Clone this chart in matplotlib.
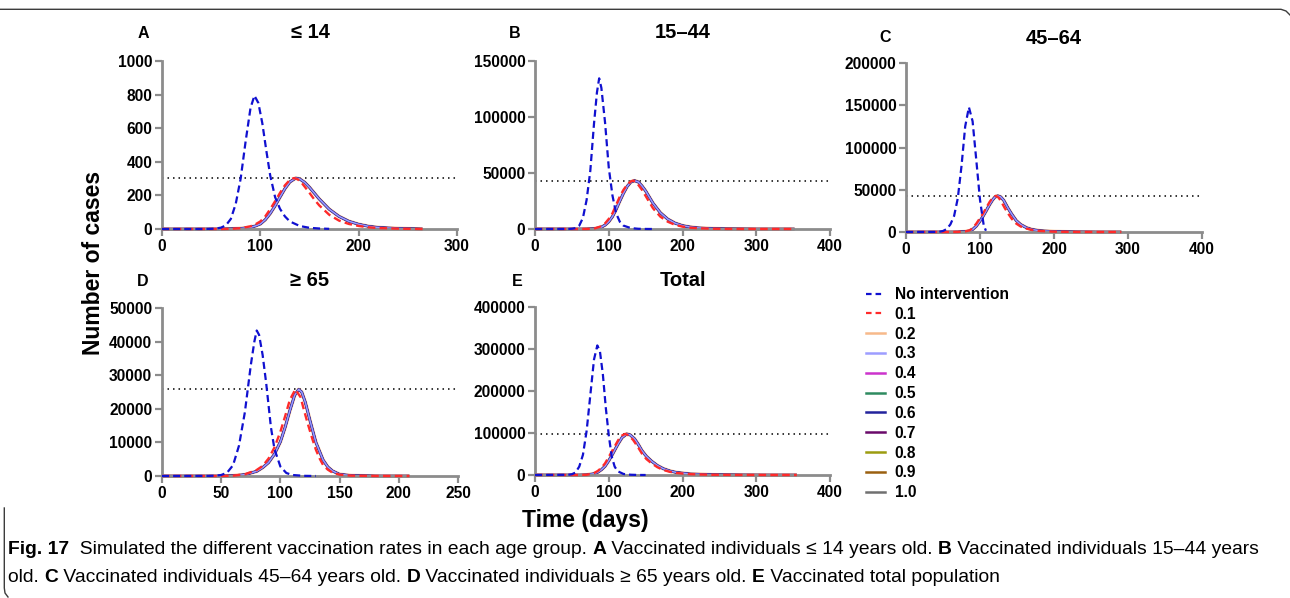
import matplotlib
matplotlib.use("Agg")
import matplotlib.pyplot as plt
from matplotlib.lines import Line2D
from matplotlib import font_manager

# ---------------- data ----------------
rates = ["0.1", "0.2", "0.3", "0.4", "0.5", "0.6", "0.7", "0.8", "0.9", "1.0"]
panel_letters = ["A", "B", "C", "D", "E"]
panel_titles = ["\u2264 14", "15\u201344", "45\u201364", "\u2265 65", "Total"]
x_max = [300, 400, 400, 250, 400]
y_max = [1000, 150000, 200000, 50000, 400000]
x_step = [100, 100, 100, 50, 100]
y_step = [200, 50000, 50000, 10000, 100000]
threshold = [303, 43150, 42800, 25750, 97800]

# Panel A (<=14)
A_none_days = [0, 40, 50, 55, 60, 65, 70, 75, 80, 85, 90, 94, 98, 102, 106, 110, 115, 120, 125, 130, 140, 150, 160, 170]
A_none_vals = [0, 0, 1, 3, 8, 22, 60, 150, 300, 520, 720, 794, 750, 630, 470, 320, 190, 120, 75, 45, 18, 7, 3, 1]
A_r01_days = [0, 60, 70, 80, 90, 95, 100, 105, 110, 115, 120, 125, 130, 134, 138, 142, 146, 150, 155, 160, 170, 180, 190, 200, 210, 220, 240, 265]
A_r01_vals = [0, 0, 1, 5, 16, 28, 45, 75, 118, 165, 215, 260, 292, 303, 296, 275, 245, 215, 175, 140, 85, 50, 30, 18, 10, 6, 2, 0]
A_vac_days = [0, 60, 70, 80, 90, 95, 100, 105, 110, 115, 120, 125, 130, 136, 140, 145, 150, 155, 160, 170, 180, 190, 200, 210, 220, 240, 265]
A_vac_vals = [0, 0, 1, 3, 10, 18, 30, 55, 92, 138, 190, 240, 280, 303, 298, 278, 248, 213, 178, 118, 75, 46, 28, 16, 9, 3, 0]

# Panel B (15-44)
B_none_days = [0, 45, 50, 55, 60, 65, 70, 75, 80, 84, 87, 90, 95, 100, 105, 110, 115, 120, 130, 140, 150, 160]
B_none_vals = [0, 50, 200, 800, 3000, 10000, 26000, 52000, 94000, 122000, 134500, 126000, 95000, 55000, 30000, 14000, 6500, 3000, 800, 200, 50, 0]
B_r01_days = [0, 60, 70, 80, 90, 95, 100, 105, 110, 115, 120, 125, 130, 133, 136, 140, 145, 150, 155, 160, 170, 180, 190, 200, 210, 220, 240, 260, 300, 352]
B_r01_vals = [0, 0, 50, 300, 2500, 5000, 9000, 14000, 21500, 29000, 35000, 39500, 42500, 43150, 42500, 39500, 35000, 29500, 24000, 18500, 11000, 6500, 3700, 2100, 1200, 700, 250, 100, 10, 0]
B_vac_days = [0, 60, 70, 80, 90, 95, 100, 105, 110, 115, 120, 125, 130, 135, 140, 145, 150, 155, 160, 170, 180, 190, 200, 210, 220, 240, 260, 300, 352]
B_vac_vals = [0, 0, 30, 200, 1600, 3500, 6500, 11000, 17500, 25000, 32000, 38000, 42000, 43150, 42000, 38500, 34000, 28500, 23000, 14500, 8800, 5200, 3000, 1800, 1000, 350, 120, 15, 0]

# Panel C (45-64)
C_none_days = [0, 40, 45, 50, 55, 60, 65, 70, 75, 80, 85, 90, 95, 100, 105, 108]
C_none_vals = [0, 100, 300, 1200, 3500, 9000, 19000, 40000, 78000, 125000, 147700, 131000, 85000, 38000, 8000, 1500]
C_r01_days = [0, 60, 70, 80, 86, 90, 95, 100, 104, 108, 113, 117, 121.5, 125, 129, 133, 138, 143, 149, 155, 163, 170, 181, 200, 230, 260, 291]
C_r01_vals = [0, 0, 100, 700, 2000, 4500, 9900, 16500, 21800, 28000, 35600, 40500, 42800, 40800, 35600, 29000, 21800, 15500, 9900, 6500, 4000, 2500, 1200, 400, 80, 15, 0]
C_vac_days = [0, 60, 70, 80, 86, 90, 95, 100, 104, 108, 113, 117, 120, 124, 128, 132, 138, 143, 149, 155, 163, 170, 181, 200, 230, 260, 291]
C_vac_vals = [0, 0, 60, 450, 1300, 3000, 7000, 13000, 18500, 24500, 32500, 38000, 41200, 42800, 41500, 37500, 28000, 21000, 13500, 8800, 5000, 3000, 1500, 500, 100, 20, 0]

# Panel D (>=65)
D_none_days = [0, 40, 45, 50, 55, 60, 65, 70, 75, 78, 80, 82, 85, 88, 92, 95, 100, 105, 110, 120, 130]
D_none_vals = [0, 30, 100, 300, 1000, 3200, 9000, 19000, 33000, 40000, 43300, 42000, 36000, 27600, 14500, 8000, 2800, 900, 300, 50, 0]
D_r01_days = [0, 50, 60, 70, 80, 85, 90, 95, 100, 104, 108, 112.6, 117, 120, 123, 127, 130, 133, 136, 140, 144, 150, 160, 180, 209]
D_r01_vals = [0, 0, 100, 500, 1800, 3000, 5200, 8500, 13200, 17800, 22700, 25750, 23500, 19500, 15700, 11000, 7800, 5300, 3300, 1900, 1000, 400, 100, 10, 0]
D_vac_days = [0, 50, 60, 70, 80, 85, 90, 95, 100, 104, 108, 112, 115.4, 118, 121, 125, 130, 136, 140, 144, 150, 160, 180, 209]
D_vac_vals = [0, 0, 80, 400, 1400, 2500, 4000, 6500, 10200, 14500, 19500, 24000, 25750, 25000, 22000, 16500, 10000, 4800, 2700, 1500, 500, 120, 10, 0]

# Panel E (Total)
E_none_days = [0, 45, 50, 55, 60, 65, 70, 75, 80, 84.5, 88, 92, 96, 100, 104, 108, 112, 120, 130, 140, 150]
E_none_vals = [0, 500, 1800, 6000, 20000, 48000, 105000, 190000, 275000, 308500, 295000, 240000, 160000, 95000, 44000, 20000, 9000, 2500, 600, 100, 0]
E_r01_days = [0, 60, 70, 80, 85, 90, 95, 100, 104, 108, 113, 118, 122, 127, 133, 139, 145, 151, 158, 166, 174, 183, 192, 210, 240, 280, 320, 355]
E_r01_vals = [0, 0, 500, 4500, 9500, 17000, 27800, 43000, 55600, 68000, 83500, 94000, 97800, 94500, 83500, 68000, 51000, 38000, 27800, 18500, 11900, 7500, 4800, 2000, 500, 100, 20, 0]
E_vac_days = [0, 60, 70, 80, 85, 90, 95, 100, 104, 108, 113, 118, 124.3, 129, 135, 140, 145, 151, 158, 166, 174, 183, 192, 210, 240, 280, 320, 355]
E_vac_vals = [0, 0, 300, 3000, 6500, 12500, 21000, 34000, 46000, 59000, 75000, 89000, 97800, 95500, 86000, 73000, 58000, 44500, 33000, 22500, 15000, 9500, 6000, 2500, 600, 120, 25, 0]

none_days = [A_none_days, B_none_days, C_none_days, D_none_days, E_none_days]
none_vals = [A_none_vals, B_none_vals, C_none_vals, D_none_vals, E_none_vals]
r01_days = [A_r01_days, B_r01_days, C_r01_days, D_r01_days, E_r01_days]
r01_vals = [A_r01_vals, B_r01_vals, C_r01_vals, D_r01_vals, E_r01_vals]
vac_days = [A_vac_days, B_vac_days, C_vac_days, D_vac_days, E_vac_days]
vac_vals = [A_vac_vals, B_vac_vals, C_vac_vals, D_vac_vals, E_vac_vals]

# ---------------- styles / layout ----------------
W, H = 1290, 598
plt.rcParams["font.family"] = ["Liberation Sans", "DejaVu Sans"]
plt.rcParams["font.weight"] = "bold"

available = {f.name for f in font_manager.fontManager.ttflist}
if "Liberation Sans Narrow" in available:
    cap_font = ["Liberation Sans Narrow", "Liberation Sans", "DejaVu Sans"]
else:
    cap_font = ["Liberation Sans", "DejaVu Sans"]

fig = plt.figure(figsize=(W / 100, H / 100), dpi=100)
fig.patch.set_facecolor("white")

def fx(px):
    return px / W

def fy(py):
    return 1 - py / H

# axes rectangles in pixels: left, top, right, bottom
rects = [(162, 61, 457, 229), (535, 61, 830, 229), (906, 63, 1202, 232),
         (162, 308, 458, 476), (535, 307, 830, 475)]
letter_pos = [(143, 33), (515, 33), (885, 38), (143, 281), (517, 281)]
title_pos = [(310, 33), (683, 33), (1054, 38), (310, 281), (683, 281)]

solid_colors = {"0.2": "#f7b98a", "0.3": "#9d9dff", "0.4": "#cc33cc", "0.5": "#2e8b60",
                "0.6": "#23239c", "0.7": "#6a0a6a", "0.8": "#9c9c10", "0.9": "#9a6010",
                "1.0": "#707070"}
blue_c = "#1010d0"
red_c = "#ff2a2a"
spine_c = "#8c8c8c"
dash = (0, (3.2, 1.8))
solid_order = ["0.2", "1.0", "0.9", "0.8", "0.7", "0.5", "0.4", "0.6", "0.3"]
solid_lw = {"0.2": 2.6, "1.0": 1.4, "0.9": 1.4, "0.8": 1.4, "0.7": 1.4, "0.5": 1.4,
            "0.4": 1.4, "0.6": 1.9, "0.3": 1.1}

for i in range(5):
    l, t, r, b = rects[i]
    ax = fig.add_axes([fx(l), fy(b), (r - l) / W, (b - t) / H])
    ax.set_xlim(0, x_max[i])
    ax.set_ylim(0, y_max[i])
    ax.set_xticks(range(0, x_max[i] + 1, x_step[i]))
    ax.set_yticks(range(0, y_max[i] + 1, y_step[i]))
    for s in ("top", "right"):
        ax.spines[s].set_visible(False)
    for s in ("left", "bottom"):
        ax.spines[s].set_color(spine_c)
        ax.spines[s].set_linewidth(2.0)
    ax.tick_params(direction="out", length=5, width=1.6, color=spine_c,
                   labelsize=11.2, pad=2)
    for lab in ax.get_xticklabels() + ax.get_yticklabels():
        lab.set_fontweight("bold")
    ax.set_facecolor("none")

    ax.axhline(threshold[i], color="black", lw=1.1, ls=(0, (1, 2.6)), zorder=1)

    for k, key in enumerate(solid_order):
        ax.plot(vac_days[i], vac_vals[i], color=solid_colors[key], lw=solid_lw[key],
                zorder=2 + k * 0.01, clip_on=False, solid_capstyle="butt")
    ax.plot(r01_days[i], r01_vals[i], color=red_c, lw=1.7, ls=dash, zorder=3,
            clip_on=False)
    ax.plot(none_days[i], none_vals[i], color=blue_c, lw=1.6, ls=dash, zorder=4,
            clip_on=False)

    fig.text(fx(letter_pos[i][0]), fy(letter_pos[i][1]), panel_letters[i],
             fontsize=11.5, fontweight="bold", ha="center", va="center")
    fig.text(fx(title_pos[i][0]), fy(title_pos[i][1]), panel_titles[i],
             fontsize=14.5, fontweight="bold", ha="center", va="center")

# axis labels
fig.text(fx(93), fy(263), "Number of cases", rotation=90, fontsize=16.5,
         fontweight="bold", ha="center", va="center")
fig.text(fx(585), fy(521), "Time (days)", fontsize=16.5, fontweight="bold",
         ha="center", va="center")

# legend
handles = [Line2D([], [], color=blue_c, lw=1.6, ls=(0, (2.5, 1.8)))]
labels = ["No intervention"]
handles.append(Line2D([], [], color=red_c, lw=1.6, ls=(0, (2.5, 1.8))))
labels.append(rates[0])
for key in rates[1:]:
    handles.append(Line2D([], [], color=solid_colors[key], lw=1.8))
    labels.append(key)
fig.legend(handles, labels, loc="upper left", bbox_to_anchor=(fx(866), fy(287)),
           frameon=False, prop=dict(weight="bold", size=11.2), handlelength=1.2,
           handletextpad=0.65, labelspacing=0.31, borderaxespad=0, borderpad=0)

# frame lines
fig.add_artist(Line2D([fx(0), fx(1281), fx(1286), fx(1290)],
                      [fy(9.3), fy(9.3), fy(11), fy(15)], color="#3c3c3c", lw=1.0,
                      transform=fig.transFigure))
fig.add_artist(Line2D([fx(4.3), fx(4.3), fx(5), fx(8)],
                      [fy(508), fy(588), fy(593), fy(597)], color="#3c3c3c", lw=1.0,
                      transform=fig.transFigure))

# caption with mixed weights
line1 = [("Fig. 17", True), ("  Simulated the different vaccination rates in each age group. ", False),
         ("A", True), (" Vaccinated individuals \u2264 14 years old. ", False),
         ("B", True), (" Vaccinated individuals 15\u201344 years", False)]
line2 = [("old. ", False), ("C", True), (" Vaccinated individuals 45\u201364 years old. ", False),
         ("D", True), (" Vaccinated individuals \u2265 65 years old. ", False),
         ("E", True), (" Vaccinated total population", False)]

renderer = fig.canvas.get_renderer()

def seg_width(txt, bold, size):
    kw = dict(fontsize=size, fontweight="bold" if bold else "normal", family=cap_font)
    p = fig.text(0, 0, txt + "|", **kw)
    q = fig.text(0, 0, "|", **kw)
    w = p.get_window_extent(renderer).width - q.get_window_extent(renderer).width
    p.remove()
    q.remove()
    return w

def line_width(parts, size):
    return sum(seg_width(t, b, size) for t, b in parts)

base = 10.0
cap_size = base * (1262 - 8) / line_width(line1, base)

def draw_line(parts, x_px, y_px, size):
    x = x_px
    for txt, bold in parts:
        fig.text(fx(x), fy(y_px), txt, fontsize=size,
                 fontweight="bold" if bold else "normal", family=cap_font,
                 ha="left", va="baseline", color="black")
        x += seg_width(txt, bold, size)

draw_line(line1, 8, 554, cap_size)
draw_line(line2, 8, 582, cap_size)

fig.savefig("out.png", dpi=100, facecolor="white")
